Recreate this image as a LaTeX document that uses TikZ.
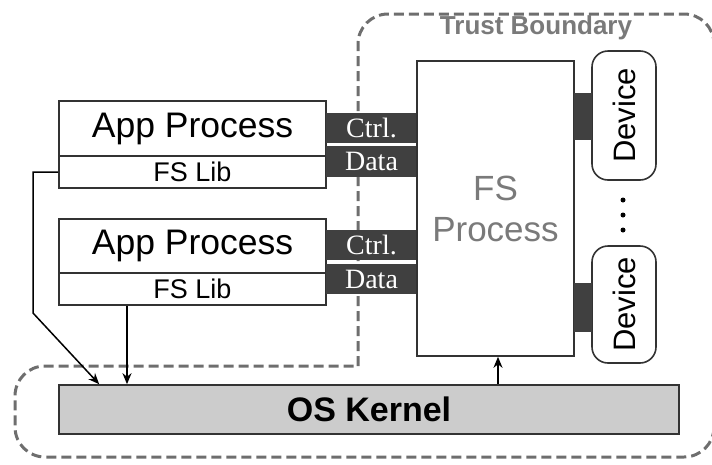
\documentclass[tikz,border=0pt]{standalone}
\usepackage{fontspec}
\setmainfont{Liberation Sans}
\newfontfamily\chanfont{Liberation Serif}
\usetikzlibrary{arrows.meta, positioning}
\definecolor{boxline}{HTML}{333333}
\definecolor{chandark}{HTML}{404040}
\definecolor{kernelgray}{HTML}{CCCCCC}
\definecolor{trustgray}{HTML}{6E6E6E}
\definecolor{fsgray}{HTML}{7A7A7A}

\begin{document}
\begin{tikzpicture}[x=1pt, y=-1pt, >={Stealth[length=11pt, width=9pt, inset=3.5pt]},
    box/.style={draw=boxline, line width=1.6pt, fill=white, inner sep=0pt},
    chan/.style={fill=chandark, text=white, inner sep=0pt, minimum width=91pt,
      minimum height=30pt, font=\chanfont\fontsize{28}{30}\selectfont},
    link/.style={fill=chandark, inner sep=0pt, minimum width=18pt},
    devbox/.style={draw=boxline, line width=1.6pt, rounded corners=16pt, inner sep=0pt,
      rotate=90, minimum height=64pt, font=\fontsize{31}{34}\selectfont}]

        \useasboundingbox (0, 0) rectangle (712, 464);

        % trust boundary
        \draw[trustgray, line width=3pt, dash pattern=on 10pt off 5pt, rounded corners=30pt]
          (358, 366) -- (358, 14) -- (714, 14) -- (714, 457) -- (15, 457) -- (15, 366) -- (358, 366);
        \node[text=fsgray, font=\bfseries\fontsize{26}{28}\selectfont] (trust) at (536, 28) {Trust Boundary};

        % apps
        \node[box, minimum width=267pt, minimum height=55pt, font=\fontsize{35.5}{38}\selectfont]
          (app1) at (192.5, 128.5) {App Process};
        \node[box, minimum width=267pt, minimum height=32pt, font=\fontsize{27}{29}\selectfont]
          (lib1) at (192.5, 172) {FS Lib};
        \node[box, minimum width=267pt, minimum height=54pt, font=\fontsize{35.5}{38}\selectfont]
          (app2) at (192.5, 246) {App Process};
        \node[box, minimum width=267pt, minimum height=32pt, font=\fontsize{27}{29}\selectfont]
          (lib2) at (192.5, 289) {FS Lib};

        \node[chan] (ctrl1) at (371.5, 128) {Ctrl.};
        \node[chan, minimum height=31pt] (data1) at (371.5, 161.5) {Data};
        \node[chan] (ctrl2) at (371.5, 245) {Ctrl.};
        \node[chan] (data2) at (371.5, 279) {Data};

        % fs process and devices
        \node[box, minimum width=157pt, minimum height=295pt, text=fsgray, align=center,
          font=\fontsize{35}{41}\selectfont] (fs) at (495.5, 208.5) {FS\\Process};

        \node[devbox, minimum width=129pt] (dev1) at (624, 115.5) {Device};
        \node[devbox, minimum width=117pt] (dev2) at (624, 304.5) {Device};
        \node[link, minimum height=47pt] (link1) at (583, 116.5) {};
        \node[link, minimum height=49pt] (link2) at (583, 307.5) {};
        \foreach \y in {200, 215, 230}
          \fill (623, \y) circle (2.5pt);

        % kernel
        \node[draw=boxline, line width=1.6pt, fill=kernelgray, inner sep=0pt, minimum width=620pt,
          minimum height=49pt, font=\bfseries\fontsize{34}{36}\selectfont] (kernel) at (369, 409.5) {OS Kernel};

        \coordinate (bend) at (33, 313);
        \draw[->, line width=1.5pt] (lib1.west) -| (bend) -- ([xshift=41pt]kernel.north west);
        \draw[->, line width=1.5pt] ([xshift=-65.5pt]lib2.south) -- ([xshift=-65.5pt]lib2.south |- kernel.north);
        \draw[->, line width=1.5pt] ([xshift=2.5pt]kernel.north -| fs.south) -- ([xshift=2.5pt]fs.south);
      \end{tikzpicture}
\end{document}
